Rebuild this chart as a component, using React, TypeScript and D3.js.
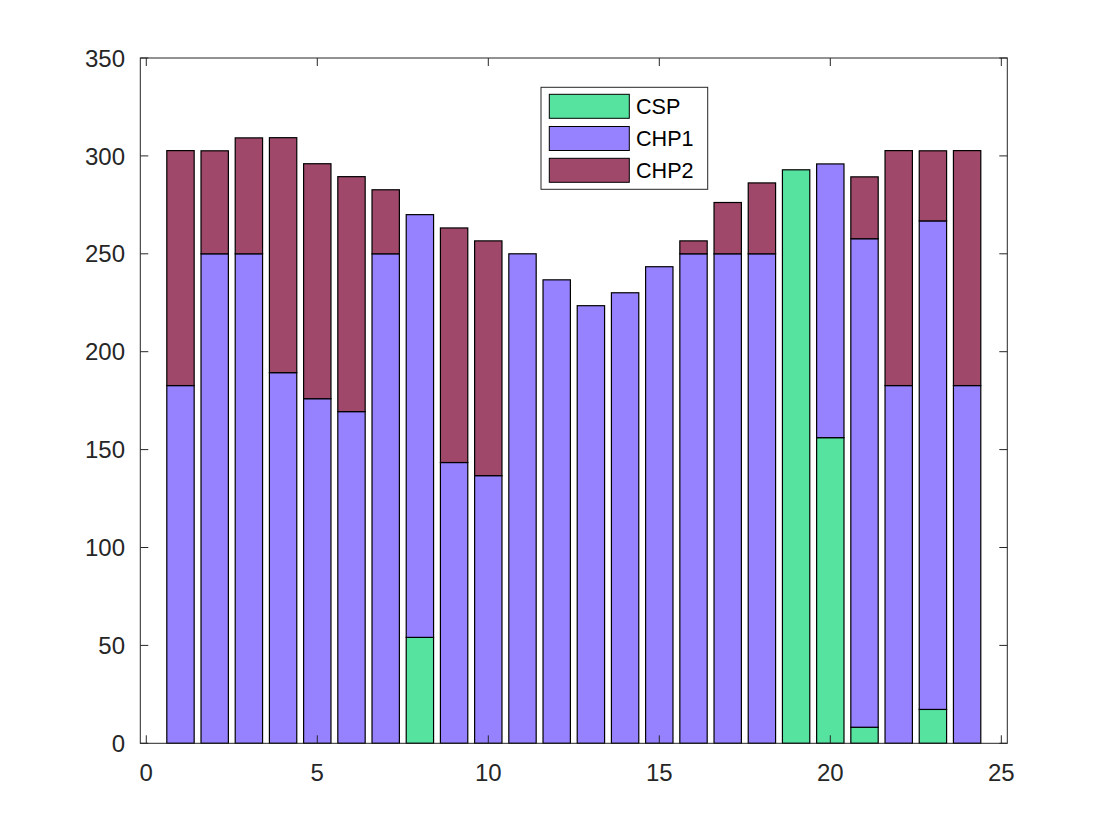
import React from "react";
import * as d3 from "d3";

const hours = d3.range(1, 25);
const seriesNames = ["CSP", "CHP1", "CHP2"];
const CSP = [0, 0, 0, 0, 0, 0, 0, 54.1, 0, 0, 0, 0, 0, 0, 0, 0, 0, 0, 292.9, 156.1, 8.2, 0, 17.3, 0];
const CHP1 = [182.7, 250, 250, 189.3, 176, 169.4, 250, 215.9, 143.4, 136.7, 250, 236.7, 223.5, 230.1, 243.4, 250, 250, 250, 0, 139.8, 249.5, 182.7, 249.5, 182.7];
const CHP2 = [120, 52.6, 59.2, 120, 120, 120, 32.7, 0, 119.8, 119.9, 0, 0, 0, 0, 0, 6.6, 26.2, 36.2, 0, 0, 31.6, 120, 35.8, 120];
const xTicks = [0, 5, 10, 15, 20, 25];
const yTicks = [0, 50, 100, 150, 200, 250, 300, 350];
const colors = ["#56E3A0", "#9682FF", "#9F4869"];

export default function App() {
  const W = 1112, H = 833;
  const left = 140.3, right = 1007.3, top = 58, bottom = 743.3;
  const x = d3.scaleLinear().domain([-0.175, 25.175]).range([left, right]);
  const y = d3.scaleLinear().domain([0, 350]).range([bottom, top]);
  const rows = hours.map((h, i) => ({ h, CSP: CSP[i], CHP1: CHP1[i], CHP2: CHP2[i] }));
  const stacked = d3.stack<any>().keys(seriesNames)(rows);
  const bw = 0.8;
  const axisColor = "#262626";
  const font = "'Liberation Sans', Arial, Helvetica, sans-serif";
  const tickLen = 8;

  // legend
  const lx = 541, ly = 87.3, lw = 166.7, lh = 102;
  const swX = 549.3, swW = 80, swH = 24;
  const swY = [94.3, 126.5, 158.3];

  return (
    <svg width={W} height={H} style={{ position: "absolute", left: 0, top: 0, background: "#fff" }}>
      <rect x={0} y={0} width={W} height={H} fill="#fff" />
      {stacked.map((s, si) =>
        s.map((d, i) => {
          const v = d[1] - d[0];
          if (v <= 0) return null;
          const h = hours[i];
          return (
            <rect
              key={`${si}-${i}`}
              x={x(h - bw / 2)}
              width={x(h + bw / 2) - x(h - bw / 2)}
              y={y(d[1])}
              height={y(d[0]) - y(d[1])}
              fill={colors[si]}
              stroke="#000"
              strokeWidth={1.2}
            />
          );
        })
      )}
      {/* axes box */}
      <rect x={left} y={top} width={right - left} height={bottom - top} fill="none" stroke={axisColor} strokeWidth={1} />
      {xTicks.map((t) => (
        <g key={`xt${t}`}>
          <line x1={x(t)} x2={x(t)} y1={bottom} y2={bottom - tickLen} stroke={axisColor} />
          <line x1={x(t)} x2={x(t)} y1={top} y2={top + tickLen} stroke={axisColor} />
          <text x={x(t)} y={781} textAnchor="middle" fontFamily={font} fontSize={24} fill={axisColor}>
            {t}
          </text>
        </g>
      ))}
      {yTicks.map((t) => (
        <g key={`yt${t}`}>
          <line x1={left} x2={left + tickLen} y1={y(t)} y2={y(t)} stroke={axisColor} />
          <line x1={right} x2={right - tickLen} y1={y(t)} y2={y(t)} stroke={axisColor} />
          <text x={125} y={y(t) + 8.6} textAnchor="end" fontFamily={font} fontSize={24} fill={axisColor}>
            {t}
          </text>
        </g>
      ))}
      {/* legend */}
      <rect x={lx} y={ly} width={lw} height={lh} fill="#fff" stroke={axisColor} strokeWidth={1} />
      {seriesNames.map((n, i) => (
        <g key={n}>
          <rect x={swX} y={swY[i]} width={swW} height={swH} fill={colors[i]} stroke="#000" strokeWidth={1} />
          <text x={636} y={swY[i] + swH / 2 + 7.8} fontFamily={font} fontSize={21.6} fill="#000">
            {n}
          </text>
        </g>
      ))}
    </svg>
  );
}
